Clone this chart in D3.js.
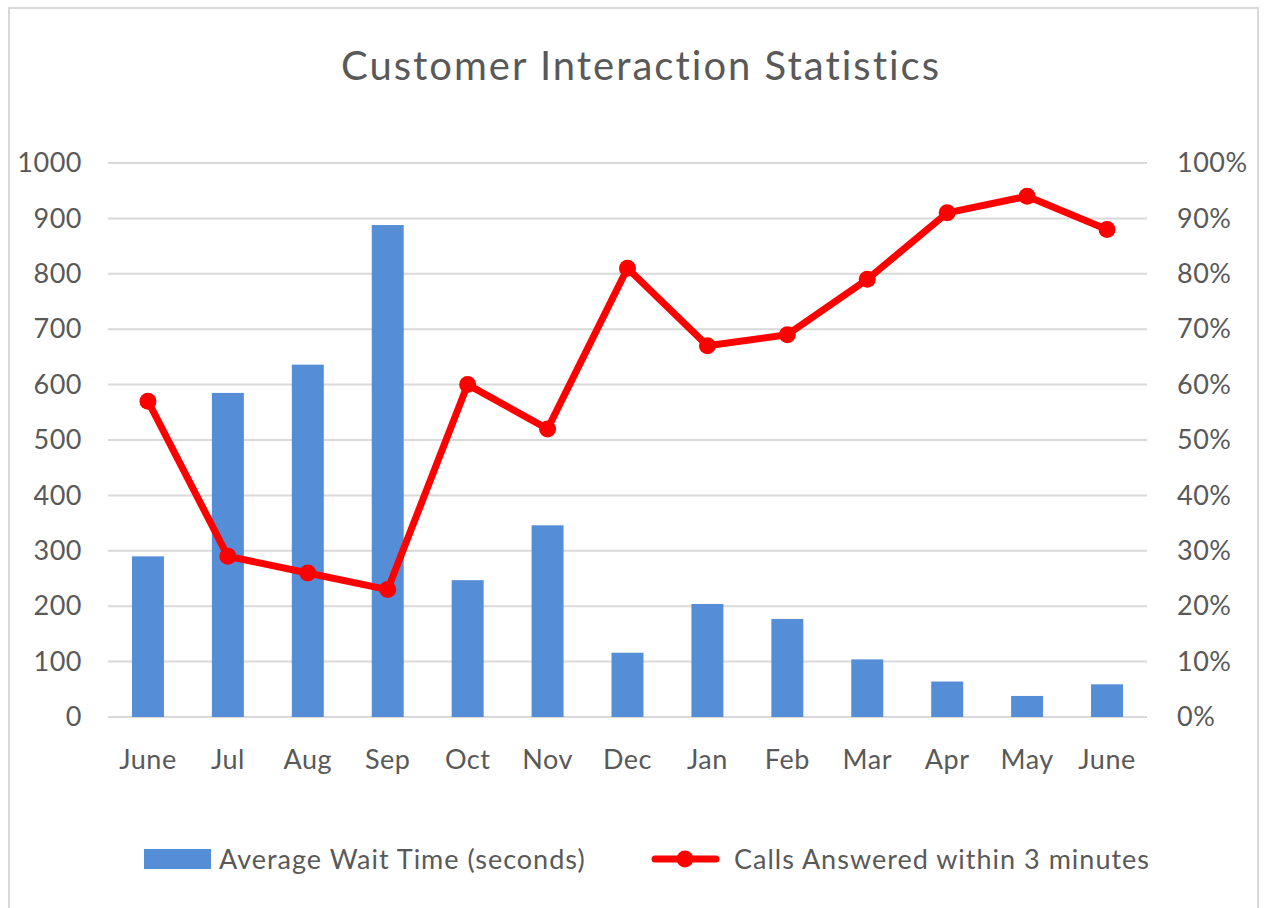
<!DOCTYPE html>
<html>
<head>
<meta charset="utf-8">
<script src="https://cdn.jsdelivr.net/npm/d3@7"></script>
<style>
  body { margin: 0; background: #fff; }
  text { font-family: Lato, "Open Sans", sans-serif; fill: #595959; }
</style>
</head>
<body>
<svg id="chart" width="1268" height="908"></svg>
<script>
var months = ["June","Jul","Aug","Sep","Oct","Nov","Dec","Jan","Feb","Mar","Apr","May","June"];
var waitTime = [290, 585, 636, 888, 247, 346, 116, 204, 177, 104, 64, 38, 59];
var answered = [0.57, 0.29, 0.26, 0.23, 0.60, 0.52, 0.81, 0.67, 0.69, 0.79, 0.91, 0.94, 0.88];
var leftTicks = [0,100,200,300,400,500,600,700,800,900,1000];
var rightTicks = [0,0.1,0.2,0.3,0.4,0.5,0.6,0.7,0.8,0.9,1];

var svg = d3.select("#chart");
var margin = {left:108, right:121, top:163, bottom:191};
var width = 1268-margin.left-margin.right;
var height = 908-margin.top-margin.bottom;

// chart border
svg.append("rect")
    .attr("x",9).attr("y",8).attr("width",1249).attr("height",910)
    .attr("fill","none").attr("stroke","#d9d9d9").attr("stroke-width",2)

svg.append("text")
    .attr("x",641).attr("y",80)
    .attr("text-anchor","middle")
    .style("font-size","40px")
    .style("letter-spacing","2px")
    .text("Customer Interaction Statistics")

var g = svg.append("g").attr("transform","translate("+margin.left+","+margin.top+")");

var x = d3.scaleBand()
    .domain(d3.range(months.length))
    .range([0,width])
    .paddingInner(0.6).paddingOuter(0.3);

var y = d3.scaleLinear().domain([0,1000]).range([height,0]);
var y2 = d3.scaleLinear().domain([0,1]).range([height,0]);

// gridlines
g.append("g")
    .selectAll("line")
    .data(leftTicks)
    .enter().append("line")
    .attr("x1",0).attr("x2",width)
    .attr("y1",function(d){return y(d)}).attr("y2",function(d){return y(d)})
    .attr("stroke","#d9d9d9").attr("stroke-width",2)

function styleTicks(sel) {
    sel.select(".domain").remove();
    sel.selectAll("text")
        .style("font-size","27px")
        .style("letter-spacing","0.5px")
        .style("font-family","Lato, sans-serif")
        .attr("fill","#595959");
}

var leftAxis = g.append("g")
    .call(d3.axisLeft(y).tickValues(leftTicks).tickSize(0).tickPadding(26).tickFormat(d3.format("d")));
styleTicks(leftAxis);

var rightAxis = g.append("g")
    .attr("transform","translate("+width+",0)")
    .call(d3.axisRight(y2).tickValues(rightTicks).tickSize(0).tickPadding(30).tickFormat(d3.format(".0%")));
styleTicks(rightAxis);

var xAxis = g.append("g")
    .attr("transform","translate(0,"+height+")")
    .call(d3.axisBottom(x).tickSize(0).tickPadding(33).tickFormat(function(i){return months[i]}));
styleTicks(xAxis);

g.append("g")
    .selectAll("rect")
    .data(waitTime)
    .enter().append("rect")
    .attr("x",function(d,i){return x(i)})
    .attr("y",function(d){return y(d)})
    .attr("width",x.bandwidth())
    .attr("height",function(d){return height-y(d)})
    .attr("fill","#558dd6")

var line = d3.line()
    .x(function(d,i){return x(i)+x.bandwidth()/2})
    .y(function(d){return y2(d)});

g.append("path")
    .datum(answered)
    .attr("d",line)
    .attr("fill","none")
    .attr("stroke","#ff0000")
    .attr("stroke-width",7)
    .attr("stroke-linejoin","round")

g.append("g")
    .selectAll("circle")
    .data(answered)
    .enter().append("circle")
    .attr("cx",function(d,i){return x(i)+x.bandwidth()/2})
    .attr("cy",function(d){return y2(d)})
    .attr("r",8.5)
    .attr("fill","#ff0000")

// legend
var legend = svg.append("g");
legend.append("rect")
    .attr("x",144).attr("y",849).attr("width",67).attr("height",20)
    .attr("fill","#558dd6")
legend.append("text")
    .attr("x",219).attr("y",869)
    .style("font-size","27px")
    .style("letter-spacing","1px")
    .text("Average Wait Time (seconds)")
legend.append("line")
    .attr("x1",655).attr("x2",716).attr("y1",859).attr("y2",859)
    .attr("stroke","#ff0000").attr("stroke-width",7).attr("stroke-linecap","round")
legend.append("circle")
    .attr("cx",685).attr("cy",859).attr("r",8.5).attr("fill","#ff0000")
legend.append("text")
    .attr("x",734).attr("y",869)
    .style("font-size","27px")
    .style("letter-spacing","1px")
    .text("Calls Answered within 3 minutes")
</script>
</body>
</html>
